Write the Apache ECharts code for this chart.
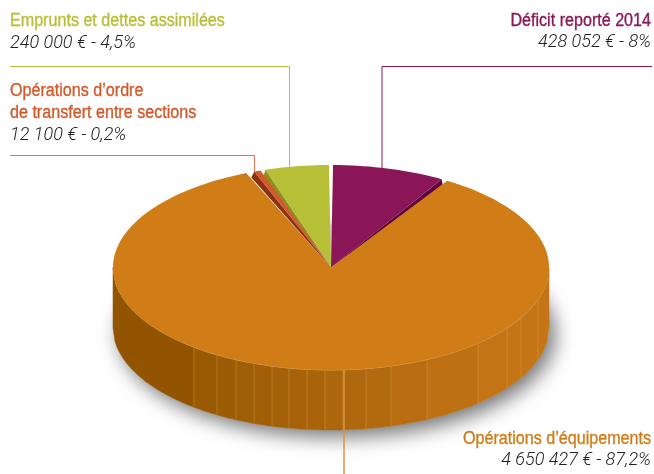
<!DOCTYPE html>
<html>
<head>
<meta charset="utf-8">
<style>
  html, body { margin: 0; padding: 0; background: #fff; }
  #main { width: 654px; height: 474px; }
</style>
<script src="https://cdn.jsdelivr.net/npm/echarts@6/dist/echarts.min.js"></script>
</head>
<body>
<div id="main"></div>
<script>
  // clockwise from the top of the pie
  var sliceNames = ['Déficit reporté 2014', 'Opérations d’équipements', 'Opérations d’ordre\nde transfert entre sections', 'Emprunts et dettes assimilées'];
  var sliceAmounts = [428052, 4650427, 12100, 240000];
  var slicePercents = ['8%', '87,2%', '0,2%', '4,5%'];

  var topColors = ['#8b1657', '#d07c17', '#d2592a', '#b6bf35'];
  var cutColors = ['#5f0042', null, '#8c3210', '#8f8f20'];
  var cutOffset = [[1, 7], null, [-3, 6], [-2, 6]];
  var layerZ = [3, 10, 5, 3];
  var gapsAfter = [1.6, 2.2, 1.3, 1.0];
  var firstAngle = 0.5;
  var minSweep = 1.65;

  var cx = 331, cy = 267.5, rx = 218, ry = 102.5, depth = 60;
  // where the thin lines on the front wall fall
  var wallEdges = [113, 194, 217, 236, 254, 272, 289, 307, 325, 343, 366, 391, 427, 478, 507, 521, 538, 549];

  function rad(d) { return d * Math.PI / 180; }

  // small perspective correction, back of the pie looks a little wider
  function rimPoint(theta) {
    var t = rad(theta + 2 * Math.sin(rad(2 * theta)));
    return [cx + rx * Math.sin(t), cy - ry * Math.cos(t)];
  }

  function sliceAngles() {
    var total = sliceAmounts.reduce(function (a, b) { return a + b; }, 0);
    var gaps = gapsAfter.reduce(function (a, b) { return a + b; }, 0);
    var free = 360 - gaps, rest = 360, i;
    for (i = 0; i < sliceAmounts.length; i++) {
      if (sliceAmounts[i] / total * 360 < minSweep) { free -= minSweep; rest -= sliceAmounts[i] / total * 360; }
    }
    var k = free / rest, res = [], a = firstAngle;
    for (i = 0; i < sliceAmounts.length; i++) {
      var sweep = sliceAmounts[i] / total * 360;
      sweep = sweep < minSweep ? minSweep : sweep * k;
      res.push([a, a + sweep]);
      a += sweep + gapsAfter[i];
    }
    return res;
  }
  var angles = sliceAngles();

  function sectorPoints(a0, a1) {
    var pts = [[cx, cy]];
    var n = Math.ceil((a1 - a0) / 1.5);
    for (var i = 0; i <= n; i++) pts.push(rimPoint(a0 + (a1 - a0) * i / n));
    return pts;
  }

  function frontY(x) {
    var c = Math.max(-1, Math.min(1, (x - cx) / rx));
    return cy + ry * Math.sqrt(1 - c * c);
  }

  function wallColor(x) {
    var f = Math.max(0, Math.min(1, (x - 150) / 350));
    var from = [145, 84, 0], to = [196, 118, 22];
    return 'rgb(' + from.map(function (v, i) { return Math.round(v + (to[i] - v) * f); }).join(',') + ')';
  }

  function wallChildren() {
    var out = [], bottom = [], i, x;
    for (i = 0; i <= 120; i++) {
      var u = rad(i * 3);
      bottom.push([cx + rx * Math.cos(u), cy + depth + ry * Math.sin(u)]);
    }
    out.push({
      type: 'polygon', z2: -1, shape: { points: bottom },
      style: { fill: '#d4d4d4', shadowBlur: 20, shadowOffsetX: 6, shadowOffsetY: 7, shadowColor: 'rgba(0,0,0,0.55)' }
    });
    for (i = 0; i < wallEdges.length - 1; i++) {
      var x0 = wallEdges[i], x1 = wallEdges[i + 1], up = [], down = [];
      var steps = Math.max(2, Math.ceil((x1 - x0) / 2));
      for (var s = 0; s <= steps; s++) {
        x = x0 + (x1 - x0) * s / steps;
        up.push([x, frontY(x)]);
        down.unshift([x, frontY(x) + depth]);
      }
      out.push({
        type: 'polygon', z2: 0, shape: { points: up.concat(down) },
        style: { fill: wallColor((x0 + x1) / 2), stroke: wallColor((x0 + x1) / 2), lineWidth: 0.5 }
      });
      if (i > 0) {
        out.push({
          type: 'line', z2: 1,
          shape: { x1: x0, y1: frontY(x0), x2: x0, y2: frontY(x0) + depth },
          style: { stroke: 'rgba(232,178,110,0.4)', lineWidth: 0.8 }
        });
      }
    }
    var rim = [];
    for (x = 113; x <= 549; x += 3) rim.push([x, frontY(x)]);
    out.push({ type: 'polyline', z2: 2, shape: { points: rim }, style: { fill: null, stroke: '#dfa968', lineWidth: 0.8 } });
    return out;
  }

  function renderSlice(params, api) {
    var i = params.dataIndex;
    var a = angles[i];
    var children = [];
    if (i === 1) children = wallChildren();
    if (cutColors[i]) {
      var edge = rimPoint(i === 0 ? a[1] : a[0]);
      children.push({
        type: 'polygon', z2: layerZ[i],
        shape: { points: [[cx, cy], edge, [edge[0] + cutOffset[i][0], edge[1] + cutOffset[i][1]]] },
        style: { fill: cutColors[i] }
      });
    }
    children.push({
      type: 'polygon', z2: layerZ[i],
      shape: { points: sectorPoints(a[0], a[1]) },
      style: { fill: topColors[i] }
    });
    return { type: 'group', children: children };
  }

  function amountLabel(i) {
    return String(sliceAmounts[i]).replace(/\B(?=(\d{3})+$)/g, ' ') + ' € - ' + slicePercents[i];
  }

  // no condensed face installed, so the titles are squeezed horizontally
  function titleText(i, x, y, align) {
    return {
      type: 'text', x: x, y: y, scaleX: 0.895,
      style: {
        text: sliceNames[i], fill: topColors[i], align: align, verticalAlign: 'middle',
        stroke: topColors[i], lineWidth: 0.35,
        font: '18px "Liberation Sans", sans-serif', lineHeight: 22.5
      }
    };
  }
  function amountText(i, x, y, align) {
    return {
      type: 'text', x: x, y: y, scaleX: 1.03,
      style: {
        text: amountLabel(i), fill: '#222', align: align, verticalAlign: 'middle',
        font: 'italic 300 17.5px Roboto, "Liberation Sans", sans-serif'
      }
    };
  }
  function leader(color, points, width) {
    return { type: 'polyline', shape: { points: points }, style: { fill: null, stroke: color, lineWidth: width || 1 }, z: 10 };
  }

  var chart = echarts.init(document.getElementById('main'), null, { renderer: 'canvas' });
  chart.setOption({
    animation: false,
    backgroundColor: '#fff',
    series: [{
      type: 'custom',
      coordinateSystem: 'none',
      silent: true,
      clip: false,
      renderItem: renderSlice,
      data: sliceAmounts.map(function (v) { return [v]; })
    }],
    graphic: {
      elements: [
        leader('#b9c23e', [[10, 66.5], [289.5, 66.5], [289.5, 167]]),
        leader('#de7350', [[10, 155.5], [254.5, 155.5], [254.5, 172]]),
        leader('#8b1657', [[652, 66.5], [382, 66.5], [382, 168]]),
        leader('#dc9440', [[344, 370], [344, 474]], 1.5),
        titleText(3, 10, 21, 'left'),
        amountText(3, 10, 44, 'left'),
        titleText(2, 10, 102, 'left'),
        amountText(2, 10, 136, 'left'),
        titleText(0, 651, 21, 'right'),
        amountText(0, 651, 43, 'right'),
        titleText(1, 651, 439, 'right'),
        amountText(1, 651, 461, 'right')
      ]
    }
  });
</script>
</body>
</html>
